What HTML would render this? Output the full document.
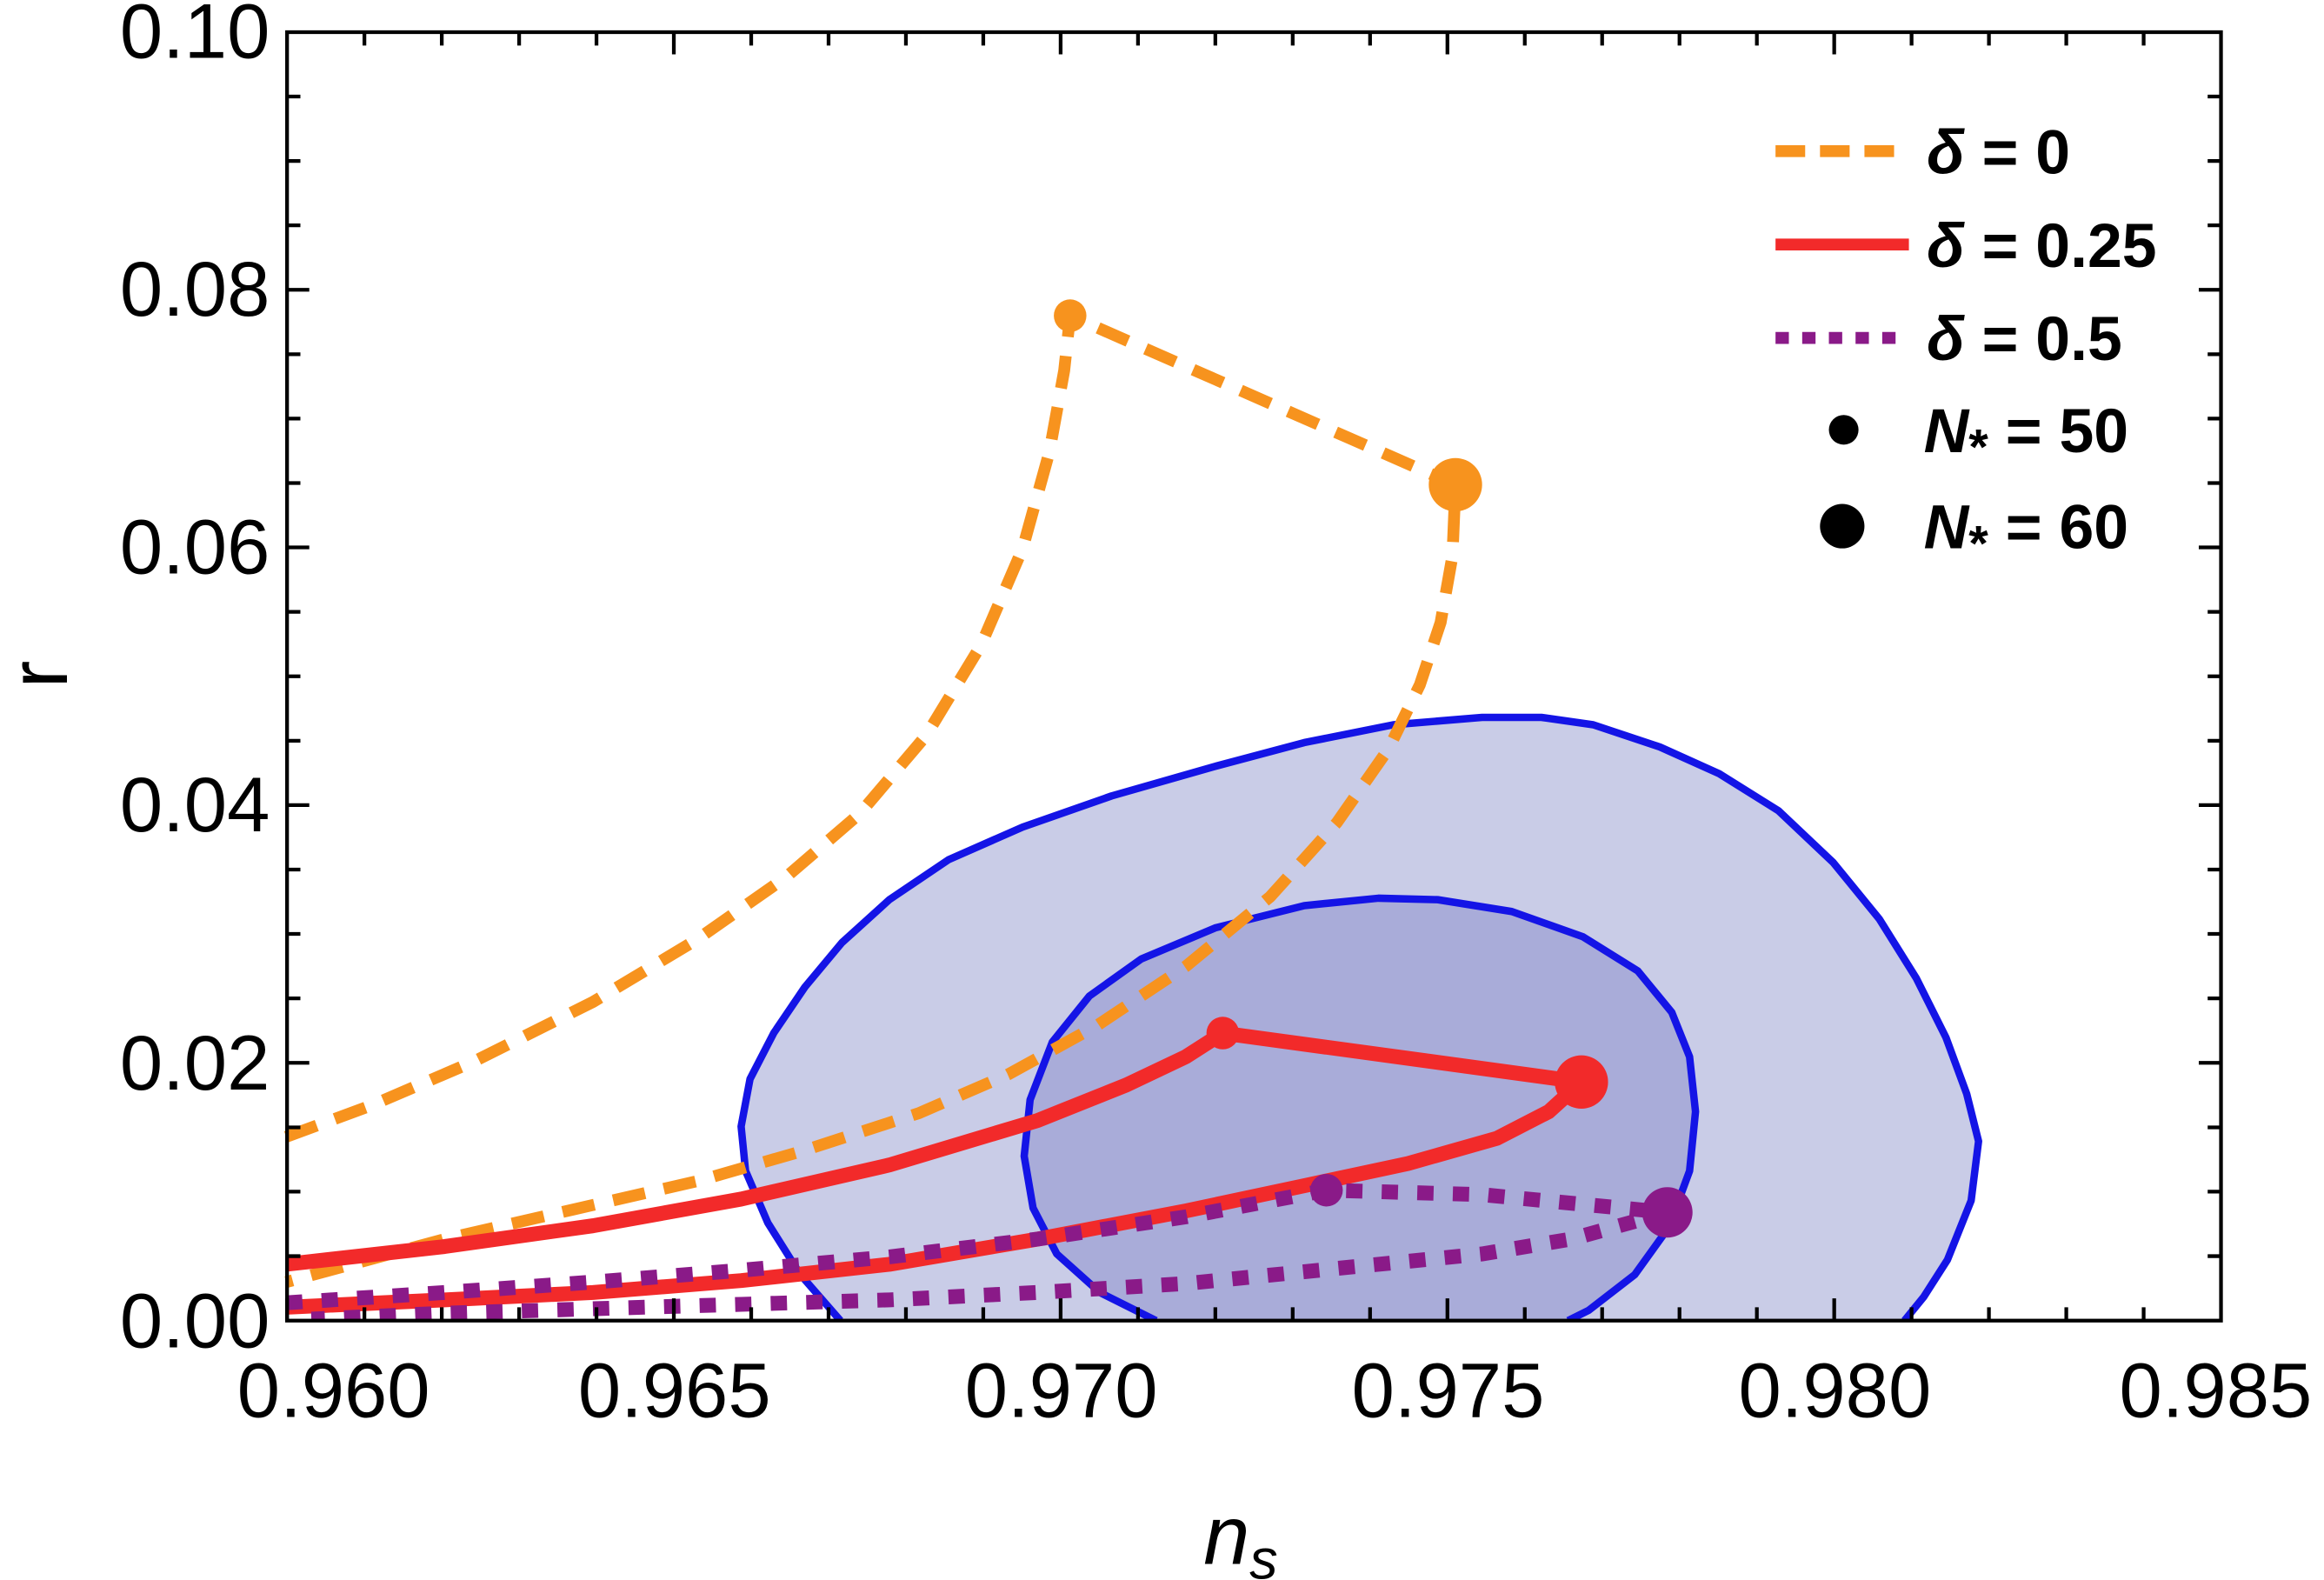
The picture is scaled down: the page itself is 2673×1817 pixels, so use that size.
<!DOCTYPE html>
<html><head><style>html,body{margin:0;padding:0;background:#fff}svg{display:block}</style></head>
<body>
<svg width="2673" height="1817" viewBox="0 0 1568 1066" xmlns="http://www.w3.org/2000/svg" font-family="Liberation Sans, sans-serif">
<rect width="1568" height="1066" fill="#fff"/>
<!-- contours -->
<polygon points="567,891 540,860 518,825 503,790 500,760 506,728 522,697 543,666 568,636 600,607 640,580 690,558 750,537 820,517 880,501 940,489 1000,484 1040,484 1075,489 1120,504 1160,522 1200,547 1237,582 1268,620 1293,660 1313,700 1327,738 1335,770 1330,810 1314,850 1298,875 1285,891" fill="#c9cce7"/>
<polyline points="567,891 540,860 518,825 503,790 500,760 506,728 522,697 543,666 568,636 600,607 640,580 690,558 750,537 820,517 880,501 940,489 1000,484 1040,484 1075,489 1120,504 1160,522 1200,547 1237,582 1268,620 1293,660 1313,700 1327,738 1335,770 1330,810 1314,850 1298,875 1285,891" fill="none" stroke="#1414e6" stroke-width="5" stroke-linejoin="round"/>
<polygon points="780,891 742,872 713,846 697,815 691,780 695,742 710,703 735,672 770,647 820,626 880,611 930,606 970,607 1020,615 1068,632 1105,655 1128,683 1140,713 1144,750 1140,790 1126,828 1103,860 1072,884 1058,891" fill="#a9acd9"/>
<polyline points="780,891 742,872 713,846 697,815 691,780 695,742 710,703 735,672 770,647 820,626 880,611 930,606 970,607 1020,615 1068,632 1105,655 1128,683 1140,713 1144,750 1140,790 1126,828 1103,860 1072,884 1058,891" fill="none" stroke="#1414e6" stroke-width="5" stroke-linejoin="round"/>
<!-- orange dashed -->
<g fill="none" stroke="#f7931e" stroke-width="8" stroke-dasharray="22 13">
<polyline stroke-linejoin="round" points="193,767 250,746 320,716 400,676 470,634 530,592 580,549 625,496 662,435 690,370 708,305 718,250 722,213 982,327 980,375 972,420 958,462 937,505 902,555 857,605 800,652 740,692 680,725 620,751 540,777 470,797 400,813 300,836 193,865"/>
</g>
<!-- red -->
<g fill="none" stroke="#f22a2a" stroke-width="10" stroke-linejoin="round">
<polyline points="193,853 300,841 400,827 500,809 600,786 700,756 760,732 800,713 825,697 1067,730 1045,750 1010,768 950,785 880,800 800,817 700,836 600,853 500,864 400,872 300,877 193,882"/>
</g>
<!-- purple dotted -->
<g fill="none" stroke="#8a1a88" stroke-width="10" stroke-dasharray="11 13">
<polyline points="193,879 300,872 400,865 500,857 600,848 700,836 800,821 895,803 1000,806 1125,818 1060,836 1000,846 900,856 800,866 700,872 600,877 500,880 400,883 300,886 210,890"/>
</g>
<circle cx="722" cy="213" r="11" fill="#f7931e"/>
<circle cx="982" cy="327" r="18" fill="#f7931e"/>
<circle cx="825" cy="697" r="11" fill="#f22a2a"/>
<circle cx="1067" cy="730" r="18" fill="#f22a2a"/>
<circle cx="895" cy="803" r="11" fill="#8a1a88"/>
<circle cx="1125" cy="818" r="17" fill="#8a1a88"/>
<!-- frame -->
<rect x="0" y="892" width="1568" height="174" fill="#fff"/>
<rect x="193.6" y="21.7" width="1305" height="869.3" fill="none" stroke="#000" stroke-width="2.5"/>
<g stroke="#000" stroke-width="2.5">
<path d="M193.6,891v-15M245.8,891v-9M298,891v-9M350.2,891v-9M402.4,891v-9M454.6,891v-15M506.8,891v-9M559,891v-9M611.2,891v-9M663.4,891v-9M715.6,891v-15M767.8,891v-9M820,891v-9M872.2,891v-9M924.4,891v-9M976.6,891v-15M1028.8,891v-9M1081,891v-9M1133.2,891v-9M1185.4,891v-9M1237.6,891v-15M1289.8,891v-9M1342,891v-9M1394.2,891v-9M1446.4,891v-9"/>
<path d="M245.8,21.7v9M298,21.7v9M350.2,21.7v9M402.4,21.7v9M454.6,21.7v15M506.8,21.7v9M559,21.7v9M611.2,21.7v9M663.4,21.7v9M715.6,21.7v15M767.8,21.7v9M820,21.7v9M872.2,21.7v9M924.4,21.7v9M976.6,21.7v15M1028.8,21.7v9M1081,21.7v9M1133.2,21.7v9M1185.4,21.7v9M1237.6,21.7v15M1289.8,21.7v9M1342,21.7v9M1394.2,21.7v9M1446.4,21.7v9"/>
<path d="M193.6,847.5h9M193.6,804h9M193.6,760.6h9M193.6,717.1h15M193.6,673.6h9M193.6,630.1h9M193.6,586.7h9M193.6,543.2h15M193.6,499.8h9M193.6,456.3h9M193.6,412.8h9M193.6,369.3h15M193.6,325.9h9M193.6,282.4h9M193.6,239h9M193.6,195.5h15M193.6,152h9M193.6,108.6h9M193.6,65.1h9"/>
<path d="M1498.6,847.5h-9M1498.6,804h-9M1498.6,760.6h-9M1498.6,717.1h-15M1498.6,673.6h-9M1498.6,630.1h-9M1498.6,586.7h-9M1498.6,543.2h-15M1498.6,499.8h-9M1498.6,456.3h-9M1498.6,412.8h-9M1498.6,369.3h-15M1498.6,325.9h-9M1498.6,282.4h-9M1498.6,239h-9M1498.6,195.5h-15M1498.6,152h-9M1498.6,108.6h-9M1498.6,65.1h-9"/>
</g>
<g font-size="52" fill="#000">
<g text-anchor="end">
<text x="182" y="39">0.10</text>
<text x="182" y="213">0.08</text>
<text x="182" y="387">0.06</text>
<text x="182" y="561">0.04</text>
<text x="182" y="735">0.02</text>
<text x="182" y="909">0.00</text>
</g>
<g text-anchor="middle">
<text x="225" y="956">0.960</text>
<text x="455" y="956">0.965</text>
<text x="716" y="956">0.970</text>
<text x="977" y="956">0.975</text>
<text x="1238" y="956">0.980</text>
<text x="1495" y="956">0.985</text>
</g>
<text x="0" y="0" font-size="56" transform="translate(45,455) rotate(-90)" text-anchor="middle">r</text>
<text x="812" y="1055" font-size="56" font-style="italic">n<tspan font-size="38" dy="10">s</tspan></text>
</g>
<!-- legend -->
<line x1="1198" y1="102" x2="1288" y2="102" stroke="#f7931e" stroke-width="8" stroke-dasharray="20 10"/>
<line x1="1198" y1="165" x2="1288" y2="165" stroke="#f22a2a" stroke-width="8"/>
<line x1="1198" y1="228" x2="1288" y2="228" stroke="#8a1a88" stroke-width="8" stroke-dasharray="9 9"/>
<circle cx="1244" cy="290" r="10" fill="#000"/>
<circle cx="1243" cy="355" r="15" fill="#000"/>
<g font-size="42" font-weight="bold" fill="#000">
<text x="1300" y="117"><tspan font-style="italic">δ</tspan> = 0</text>
<text x="1300" y="180"><tspan font-style="italic">δ</tspan> = 0.25</text>
<text x="1300" y="243"><tspan font-style="italic">δ</tspan> = 0.5</text>
<text x="1298" y="305"><tspan font-style="italic">N</tspan><tspan font-size="34" dy="8">*</tspan><tspan dy="-8"> = 50</tspan></text>
<text x="1298" y="370"><tspan font-style="italic">N</tspan><tspan font-size="34" dy="8">*</tspan><tspan dy="-8"> = 60</tspan></text>
</g>
</svg>
</body></html>
